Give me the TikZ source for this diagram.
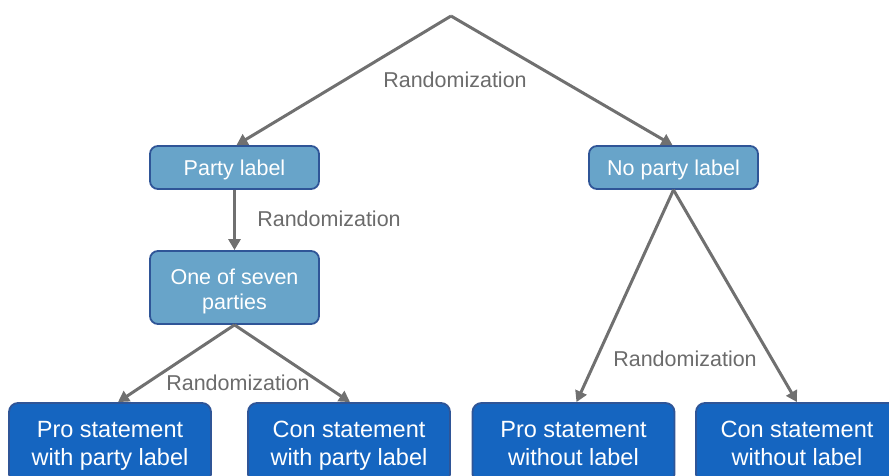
\documentclass[tikz,border=0pt]{standalone}
\usepackage{fontspec}
\setmainfont{Liberation Sans}
\usetikzlibrary{arrows.meta}
\definecolor{lightbox}{HTML}{68A4C9}
\definecolor{darkbox}{HTML}{1565C0}
\definecolor{boxedge}{HTML}{2F5597}
\definecolor{arrowgray}{HTML}{707070}
\definecolor{labelgray}{HTML}{6B6B6B}
\tikzset{
  lbox/.style={draw=boxedge, line width=1.8pt, fill=lightbox, rounded corners=8pt,
    text=white, font=\fontsize{21.5}{25}\selectfont, align=center,
    minimum width=169pt, inner sep=0pt},
  dbox/.style={draw=boxedge, line width=1.8pt, fill=darkbox, rounded corners=9pt,
    text=white, font=\fontsize{23.5}{28}\selectfont, align=center,
    minimum width=202pt, minimum height=80pt, inner sep=0pt,
    text height=45pt, text depth=0pt},
  conn/.style={draw=arrowgray, line width=3pt,
    -{Triangle[length=11pt,width=12pt]}},
  rlabel/.style={text=labelgray, font=\fontsize{21.5}{25}\selectfont, inner sep=0pt}
}
\begin{document}
\begin{tikzpicture}[x=1pt,y=-1pt]
\useasboundingbox (0,0) rectangle (889,475);
\coordinate (apex) at (451,16);
\node[lbox, minimum height=43pt, text height=16pt, text depth=0pt] (party) at (234.5,167.5) {Party label};
\node[lbox, minimum height=43pt, text height=16pt, text depth=0pt] (noparty) at (673.5,167.5) {No party label};
\node[lbox, minimum height=73pt, text height=44pt, text depth=0pt] (seven) at (234.5,287.5) {One of seven\\parties};
\node[dbox] (b1) at (110,443) {Pro statement\\with party label};
\node[dbox] (b2) at (349,443) {Con statement\\with party label};
\node[dbox] (b3) at (573.5,443) {Pro statement\\without label};
\node[dbox] (b4) at (797,443) {Con statement\\without label};
\draw[conn, line join=round] (apex) -- ([xshift=2pt]party.north);
\draw[conn] (apex) -- ([xshift=-1pt]noparty.north);
\draw[conn] (party.south) -- (seven.north);
\draw[conn] (seven.south) -- ([xshift=8pt]b1.north);
\draw[conn] (seven.south) -- ([xshift=1pt]b2.north);
\draw[conn] (noparty.south) -- ([xshift=3pt]b3.north);
\draw[conn] (noparty.south) -- (b4.north);
\node[rlabel] (r1) at (455,80) {Randomization};
\node[rlabel] (r2) at (329,219) {Randomization};
\node[rlabel] (r3) at (238,383) {Randomization};
\node[rlabel] (r4) at (685,359) {Randomization};
\end{tikzpicture}
\end{document}
